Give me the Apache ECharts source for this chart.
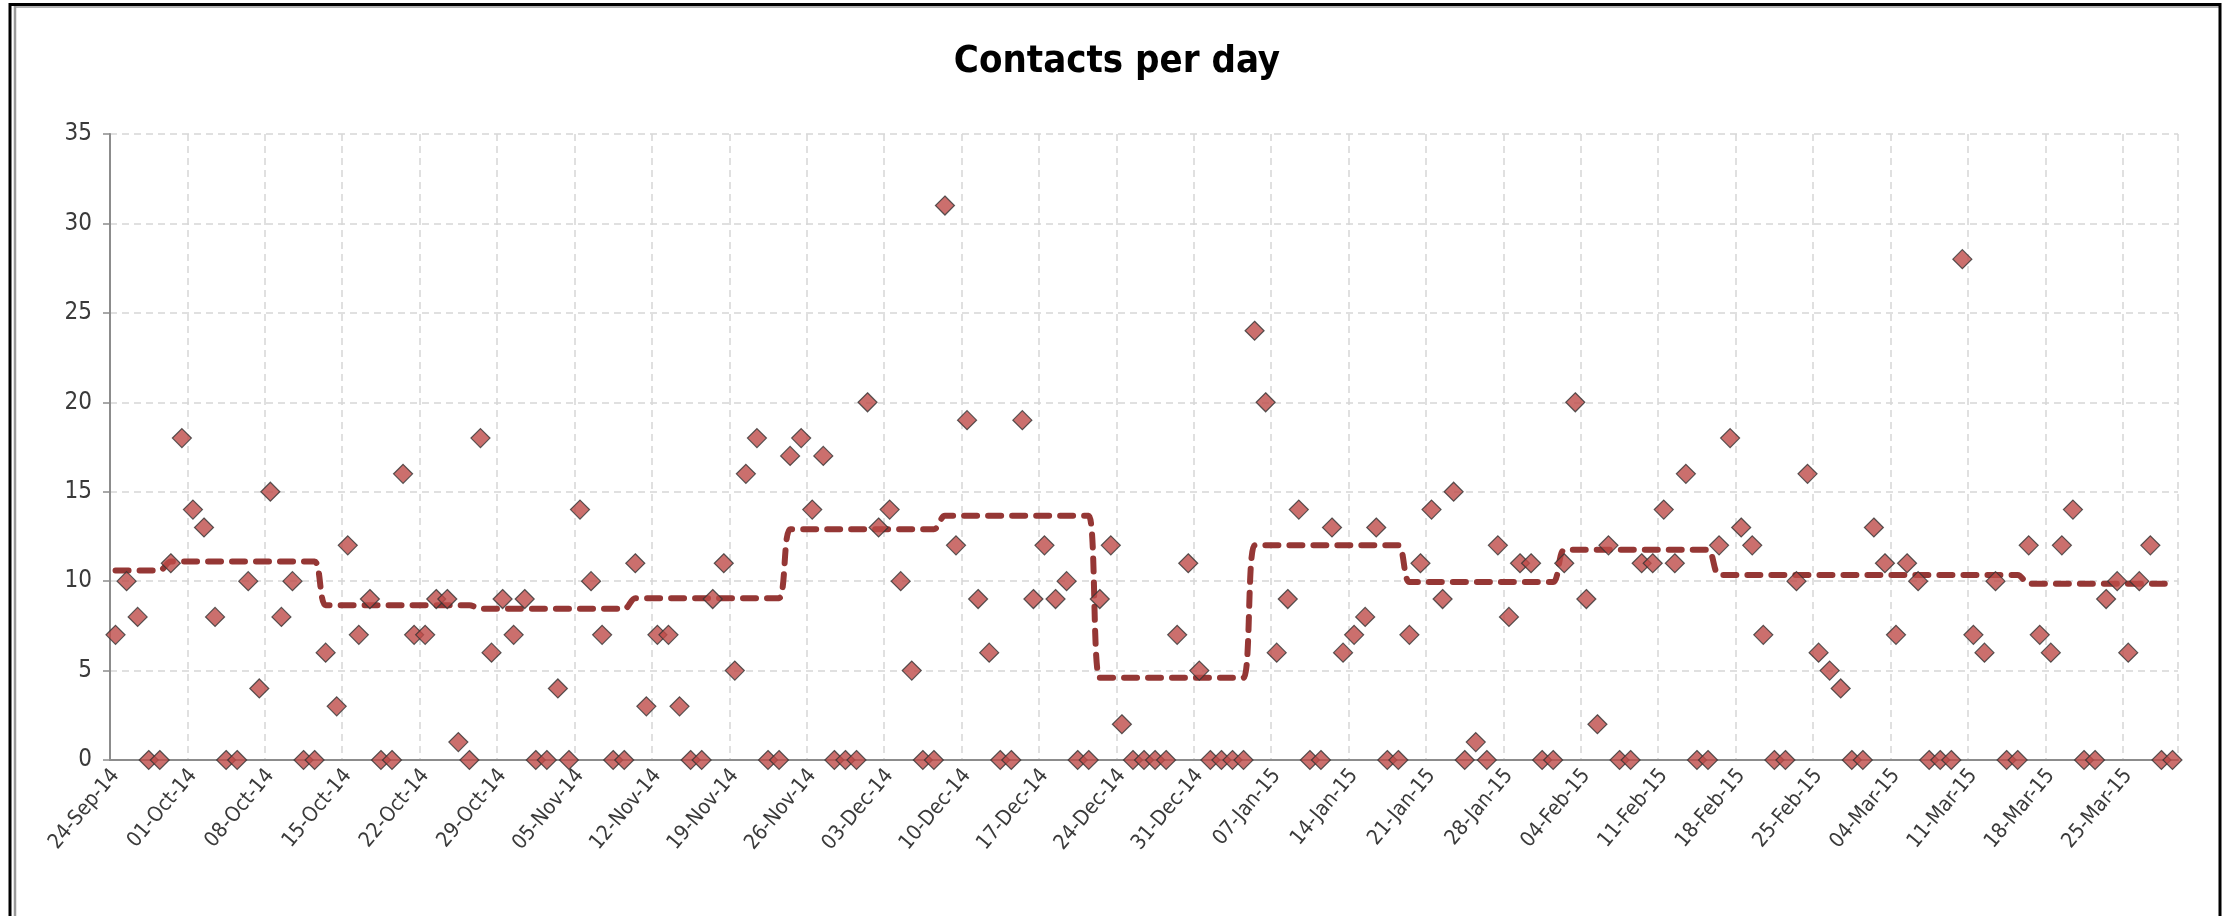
<!DOCTYPE html>
<html>
<head>
<meta charset="utf-8">
<title>Contacts per day</title>
<script src="https://cdn.jsdelivr.net/npm/echarts@6/dist/echarts.min.js"></script>
<style>
  html, body { margin: 0; padding: 0; background: #fff; }
  #chart { width: 2234px; height: 916px; }
</style>
</head>
<body>
<div id="chart"></div>
<script>
const FONT = "DejaVu Sans Condensed";
const MONTHS = ["Jan", "Feb", "Mar", "Apr", "May", "Jun", "Jul", "Aug", "Sep", "Oct", "Nov", "Dec"];

// contacts for each day, starting 24-Sep-14 (one value per day, ends 29-Mar-15)
const contacts = [
  7, 10, 8, 0, 0, 11, 18, 14, 13, 8,
  0, 0, 10, 4, 15, 8, 10, 0, 0, 6,
  3, 12, 7, 9, 0, 0, 16, 7, 7, 9,
  9, 1, 0, 18, 6, 9, 7, 9, 0, 0,
  4, 0, 14, 10, 7, 0, 0, 11, 3, 7,
  7, 3, 0, 0, 9, 11, 5, 16, 18, 0,
  0, 17, 18, 14, 17, 0, 0, 0, 20, 13,
  14, 10, 5, 0, 0, 31, 12, 19, 9, 6,
  0, 0, 19, 9, 12, 9, 10, 0, 0, 9,
  12, 2, 0, 0, 0, 0, 7, 11, 5, 0,
  0, 0, 0, 24, 20, 6, 9, 14, 0, 0,
  13, 6, 7, 8, 13, 0, 0, 7, 11, 14,
  9, 15, 0, 1, 0, 12, 8, 11, 11, 0,
  0, 11, 20, 9, 2, 12, 0, 0, 11, 11,
  14, 11, 16, 0, 0, 12, 18, 13, 12, 7,
  0, 0, 10, 16, 6, 5, 4, 0, 0, 13,
  11, 7, 11, 10, 0, 0, 0, 28, 7, 6,
  10, 0, 0, 12, 7, 6, 12, 14, 0, 0,
  9, 10, 6, 10, 12, 0, 0
];

// two-week average level: [first day index, last day index, level]
const periodAverages = [
  [0, 4, 10.6],
  [5, 18, 11.1],
  [19, 32, 8.65],
  [33, 46, 8.45],
  [47, 60, 9.05],
  [61, 74, 12.9],
  [75, 88, 13.65],
  [89, 102, 4.6],
  [103, 116, 12.0],
  [117, 130, 9.95],
  [131, 144, 11.75],
  [145, 158, 10.35],
  [159, 172, 10.35],
  [173, 186, 9.85]
];

const yTicks = { min: 0, max: 35, step: 5 };

const pad = (n) => (n < 10 ? "0" + n : "" + n);
const days = contacts.map((_, i) => {
  const d = new Date(Date.UTC(2014, 8, 24 + i));
  return pad(d.getUTCDate()) + "-" + MONTHS[d.getUTCMonth()] + "-" + pad(d.getUTCFullYear() % 100);
});

const avgLine = new Array(days.length).fill(null);
for (const [from, to, level] of periodAverages) {
  for (let i = from; i <= to; i++) avgLine[i] = level;
}

const chart = echarts.init(document.getElementById("chart"), null, { renderer: "canvas" });

chart.setOption({
  animation: false,
  backgroundColor: "#fff",
  title: {
    text: "Contacts per day",
    left: "center",
    top: 38,
    textStyle: { fontFamily: FONT, fontWeight: "bold", fontSize: 38, color: "#000" }
  },
  grid: { left: 110, right: 56, top: 134, bottom: 156 },
  xAxis: {
    type: "category",
    data: days,
    boundaryGap: true,
    axisLine: { lineStyle: { color: "#8c8c8c", width: 2 } },
    axisTick: { interval: 6, length: 9, lineStyle: { color: "#8c8c8c", width: 1.5 } },
    axisLabel: {
      interval: 6, rotate: 50, margin: 12,
      fontFamily: FONT, fontSize: 21, color: "#3a3a3a"
    },
    splitLine: { show: true, interval: 6, lineStyle: { color: "#d6d6d6", width: 1.5, type: [7, 5] } }
  },
  yAxis: {
    type: "value",
    min: yTicks.min,
    max: yTicks.max,
    interval: yTicks.step,
    axisLine: { show: true, lineStyle: { color: "#8c8c8c", width: 2 } },
    axisTick: { show: true, length: 7, lineStyle: { color: "#8c8c8c", width: 1.5 } },
    axisLabel: { margin: 18, fontFamily: FONT, fontSize: 24, color: "#3a3a3a" },
    splitLine: { lineStyle: { color: "#d6d6d6", width: 1.5, type: [7, 5] } }
  },
  series: [
    {
      name: "Average",
      type: "line",
      data: avgLine,
      smooth: 0.35,
      showSymbol: false,
      lineStyle: { color: "#953735", width: 6, type: [13, 11], cap: "round" },
      z: 2
    },
    {
      name: "Contacts",
      type: "scatter",
      data: contacts,
      symbol: "diamond",
      symbolSize: 19,
      clip: false,
      itemStyle: { color: "#be4b48", borderColor: "#333", borderWidth: 1.2 },
      z: 3
    }
  ],
  graphic: [
    { type: "line", shape: { x1: 10, y1: 3, x2: 10, y2: 916 }, style: { stroke: "#000", lineWidth: 3 } },
    { type: "line", shape: { x1: 15, y1: 6, x2: 15, y2: 916 }, style: { stroke: "#9a9a9a", lineWidth: 2.5 } },
    { type: "line", shape: { x1: 9, y1: 4.5, x2: 2221, y2: 4.5 }, style: { stroke: "#000", lineWidth: 3 } },
    { type: "line", shape: { x1: 15, y1: 7, x2: 2219, y2: 7 }, style: { stroke: "#9a9a9a", lineWidth: 1.5 } },
    { type: "line", shape: { x1: 2220, y1: 3, x2: 2220, y2: 916 }, style: { stroke: "#000", lineWidth: 3 } }
  ]
});
</script>
</body>
</html>
